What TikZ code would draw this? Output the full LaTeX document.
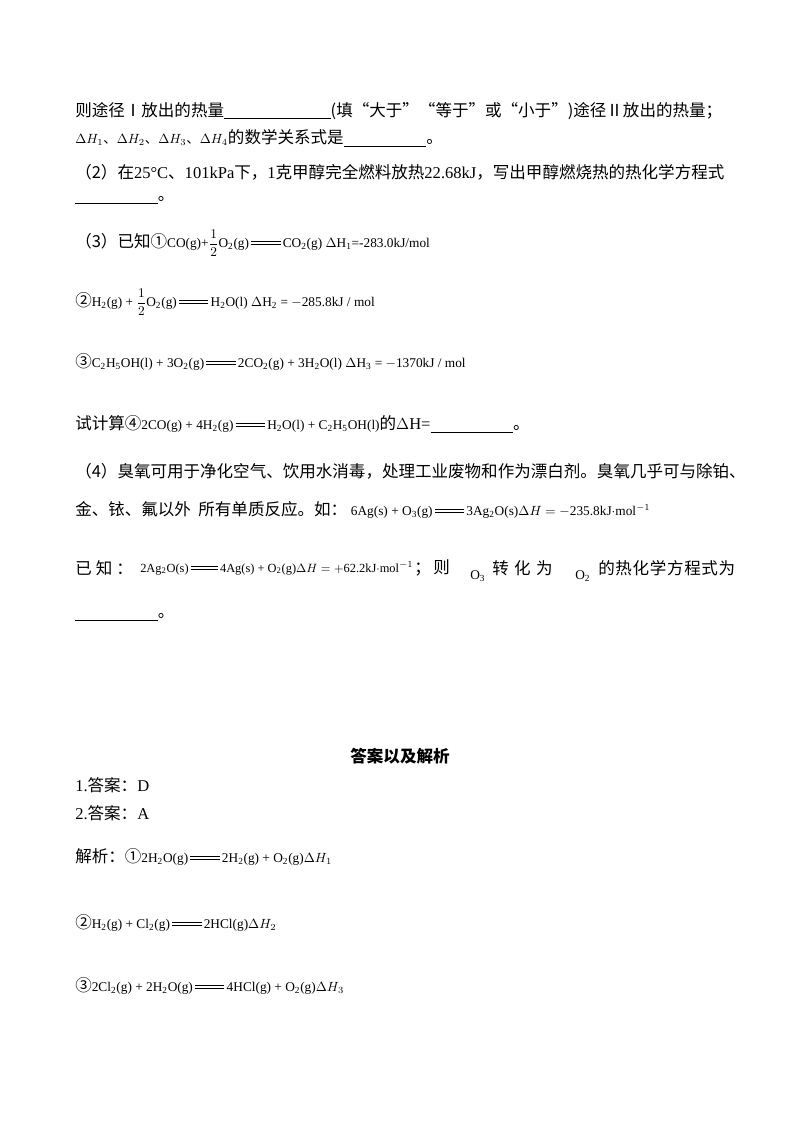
\documentclass[tikz,border=0pt]{standalone}
\usepackage{fontspec}
\setmainfont{Liberation Serif}
\newfontfamily\cjk{Noto Sans CJK SC}
\newcommand\dbl{\,\raisebox{0.22em}{\rule{2.2em}{0.45pt}}\llap{\raisebox{0.46em}{\rule{2.2em}{0.45pt}}}\,}
\newcommand\blank[1]{\rule[-2pt]{#1}{0.5pt}}
\newcommand\hf{$\displaystyle\frac{1}{2}$}
\begin{document}
\begin{tikzpicture}[x=0.75pt,y=-0.75pt,
  t/.style={anchor=west,inner sep=0pt,font=\fontsize{12.4}{14}\selectfont\cjk},
  f/.style={anchor=west,inner sep=0pt,font=\fontsize{10}{12}\selectfont}]
\useasboundingbox (0,0) rectangle (800,1132);
\node[t] (l1) at (75,111) {则途径Ⅰ放出的热量\blank{80pt}(填“大于”“等于”或“小于”)途径Ⅱ放出的热量；};
\node[f] (l2) at (75,138) {$\Delta H_1${\cjk 、}$\Delta H_2${\cjk 、}$\Delta H_3${\cjk 、}$\Delta H_4$\cjk\fontsize{12.4}{14}\selectfont 的数学关系式是\blank{62pt}。};
\node[t] (l3) at (75,172) {（2）在{\rmfamily 25°C}、{\rmfamily 101kPa}下，{\rmfamily 1}克甲醇完全燃料放热{\rmfamily 22.68kJ}，写出甲醇燃烧热的热化学方程式};
\node[t] (l4) at (75,200) {\blank{62pt}。};
\node[t] (l5) at (75,243) {（3）已知①{\rmfamily\fontsize{10}{12}\selectfont CO(g)+\hf O\textsubscript{2}(g)\dbl CO\textsubscript{2}(g) $\Delta$H\textsubscript{1}=-283.0kJ/mol}};
\node[t] (l6) at (75,302) {②{\rmfamily\fontsize{10}{12}\selectfont H\textsubscript{2}(g) + \hf O\textsubscript{2}(g)\dbl H\textsubscript{2}O(l) $\Delta$H\textsubscript{2} = $-$285.8kJ / mol}};
\node[t] (l7) at (75,362) {③{\rmfamily\fontsize{10}{12}\selectfont C\textsubscript{2}H\textsubscript{5}OH(l) + 3O\textsubscript{2}(g)\dbl 2CO\textsubscript{2}(g) + 3H\textsubscript{2}O(l) $\Delta$H\textsubscript{3} = $-$1370kJ / mol}};
\node[t] (l8) at (75,424) {试计算④{\rmfamily\fontsize{10}{12}\selectfont 2CO(g) + 4H\textsubscript{2}(g)\dbl H\textsubscript{2}O(l) + C\textsubscript{2}H\textsubscript{5}OH(l)}的{\rmfamily $\Delta$H=}\blank{62pt}。};
\node[t] (l9) at (75,471) {（4）臭氧可用于净化空气、饮用水消毒，处理工业废物和作为漂白剂。臭氧几乎可与除铂、};
\node[t] (l10) at (75,510) {金、铱、氟以外\ \ 所有单质反应。如：\ {\rmfamily\fontsize{10}{12}\selectfont 6Ag(s) + O\textsubscript{3}(g)\dbl 3Ag\textsubscript{2}O(s)$\Delta H = -$235.8kJ$\cdot$mol\textsuperscript{$-1$}}};
\node[t] (l11a) at (75,568) {已\hspace{3pt}知\hspace{3pt}：};
\node[f,font=\fontsize{9.3}{11}\selectfont] (l11b) at (140,568) {2Ag\textsubscript{2}O(s)\dbl 4Ag(s) + O\textsubscript{2}(g)$\Delta H = +$62.2kJ$\cdot$mol\textsuperscript{$-1$}};
\node[t] (l11c) at (414,568) {；\hspace{2pt}则};
\node[f] (l11d) at (470,576) {O\textsubscript{3}};
\node[t] (l11e) at (492,568) {转\hspace{4pt}化\hspace{4pt}为};
\node[f] (l11f) at (575,576) {O\textsubscript{2}};
\node[t] (l11g) at (598,568) {的\hspace{0.5pt}热\hspace{0.5pt}化\hspace{0.5pt}学\hspace{0.5pt}方\hspace{0.5pt}程\hspace{0.5pt}式\hspace{0.5pt}为};
\node[t] (l12) at (75,617) {\blank{62pt}。};
\node[inner sep=0pt,font=\fontsize{12.4}{14}\selectfont\cjk\bfseries] (h) at (400,756) {答案以及解析};
\node[t] (a1) at (75,785) {{\rmfamily 1.}答案：{\rmfamily D}};
\node[t] (a2) at (75,813) {{\rmfamily 2.}答案：{\rmfamily A}};
\node[t] (a3) at (75,857) {解析：①{\rmfamily\fontsize{10}{12}\selectfont 2H\textsubscript{2}O(g)\dbl 2H\textsubscript{2}(g) + O\textsubscript{2}(g)$\Delta H_1$}};
\node[t] (a4) at (75,923) {②{\rmfamily\fontsize{10}{12}\selectfont H\textsubscript{2}(g) + Cl\textsubscript{2}(g)\dbl 2HCl(g)$\Delta H_2$}};
\node[t] (a5) at (75,986) {③{\rmfamily\fontsize{10}{12}\selectfont 2Cl\textsubscript{2}(g) + 2H\textsubscript{2}O(g)\dbl 4HCl(g) + O\textsubscript{2}(g)$\Delta H_3$}};
\end{tikzpicture}
\end{document}
